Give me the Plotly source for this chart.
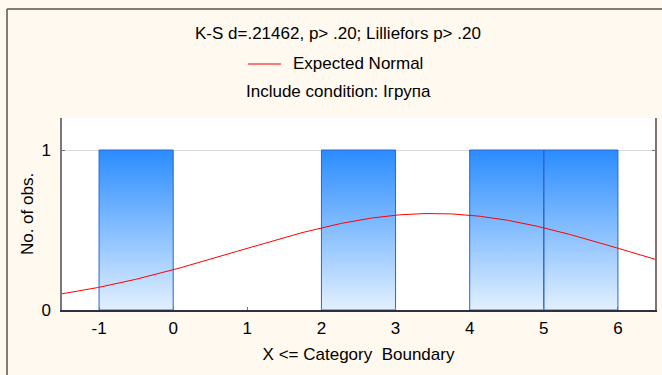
import numpy as np
import plotly.graph_objects as go

# ---- data ----
observations = [0, 3, 5, 6]                 # raw values (group I)
bin_upper = [0, 1, 2, 3, 4, 5, 6]            # X <= category boundary
counts = [1, 0, 0, 1, 0, 1, 1]               # No. of obs. per bin
bin_width = 1
x_ticks = [-1, 0, 1, 2, 3, 4, 5, 6]
x_tick_labels = ["-1", "0", "1", "2", "3", "4", "5", "6"]
y_ticks = [0, 1]
y_tick_labels = ["0", "1"]
title_text = "K-S d=.21462, p> .20; Lilliefors p> .20"
legend_text = "Expected Normal"
cond_text = "Include condition: Iгрупа"

W, H = 662, 375
L, R, T, B = 62, 7, 118, 65
PW, PH = W - L - R, H - T - B


def xp(px):
    return (px - L) / PW


def yp(py):
    return (H - B - py) / PH


FONT = "Liberation Sans, Arial, sans-serif"
FS = 17

fig = go.Figure()

# histogram bars as gradient-filled polygons in data coordinates
bx, by = [], []
for up, c in zip(bin_upper, counts):
    if c <= 0:
        continue
    lo = up - bin_width
    bx += [lo, lo, up, up, lo, None]
    by += [0, c, c, 0, 0, None]
fig.add_trace(go.Scatter(
    x=bx, y=by, mode="lines", fill="toself",
    line=dict(color="#2a66cc", width=1),
    fillgradient=dict(type="vertical",
                      colorscale=[[0, "#e2f0ff"], [1, "#2a8cff"]]),
    hoverinfo="skip", showlegend=False))

# expected normal curve
obs = np.array(observations, dtype=float)
n = len(obs)
mu = obs.mean()
sd = obs.std(ddof=1)
xc = np.linspace(-1.5, 6.5, 300)
yc = n * bin_width * np.exp(-0.5 * ((xc - mu) / sd) ** 2) / (sd * np.sqrt(2 * np.pi))
fig.add_trace(go.Scatter(x=xc, y=yc, mode="lines", name=legend_text,
                         line=dict(color="#ff0000", width=1), showlegend=False))

fig.update_layout(
    width=W, height=H,
    margin=dict(l=L, r=R, t=T, b=B, autoexpand=False),
    paper_bgcolor="#fff9ef", plot_bgcolor="#ffffff",
    font=dict(family=FONT, size=FS, color="#000000"),
    xaxis=dict(range=[-1.5, 6.5], tickvals=x_ticks, ticktext=x_tick_labels,
               showgrid=False, zeroline=False,
               showline=True, linecolor="#2b3140", linewidth=1.5,
               ticks="inside", ticklen=3, tickcolor="#777777",
               ticklabelstandoff=2,
               title=dict(text="X <= Category\u00a0 Boundary", standoff=11,
                          font=dict(size=FS))),
    xaxis2=dict(range=[-1.5, 6.5], overlaying="x", side="top", tickvals=x_ticks,
                showticklabels=False, showgrid=False, zeroline=False,
                showline=True, linecolor="#777777", linewidth=1.5,
                ticks="inside", ticklen=3, tickcolor="#777777"),
    yaxis=dict(range=[0, 1.2], tickvals=y_ticks, ticktext=y_tick_labels,
               showgrid=True, gridcolor="#dcdcdc",
               zeroline=False, showline=True, linecolor="#777777", linewidth=1.5,
               mirror="ticks", ticks="inside", ticklen=3, tickcolor="#777777",
               ticklabelstandoff=6,
               title=dict(text="No. of obs.", standoff=3, font=dict(size=FS))),
    showlegend=False,
)

ann = [
    dict(text=title_text, x=xp(338), y=yp(33)),
    dict(text=cond_text, x=xp(338), y=yp(92)),
]
for a in ann:
    fig.add_annotation(xref="paper", yref="paper", showarrow=False,
                       xanchor="center", yanchor="middle",
                       font=dict(family=FONT, size=FS, color="#000000"), **a)
fig.add_annotation(xref="paper", yref="paper", showarrow=False, text=legend_text,
                   x=xp(291), y=yp(63), xanchor="left", yanchor="middle",
                   font=dict(family=FONT, size=FS, color="#000000"))
# legend line sample
fig.add_shape(type="line", xref="paper", yref="paper",
              x0=xp(248), x1=xp(281), y0=yp(64), y1=yp(64),
              line=dict(color="#ff4a4a", width=1.5))
# outer frame (top and left edges)
fig.add_shape(type="line", xref="paper", yref="paper",
              x0=xp(7), x1=xp(W + 5), y0=yp(9), y1=yp(9),
              line=dict(color="#555555", width=1.5))
fig.add_shape(type="line", xref="paper", yref="paper",
              x0=xp(7), x1=xp(7), y0=yp(9), y1=yp(H + 5),
              line=dict(color="#555555", width=1.5))

fig.write_html("out.html")
